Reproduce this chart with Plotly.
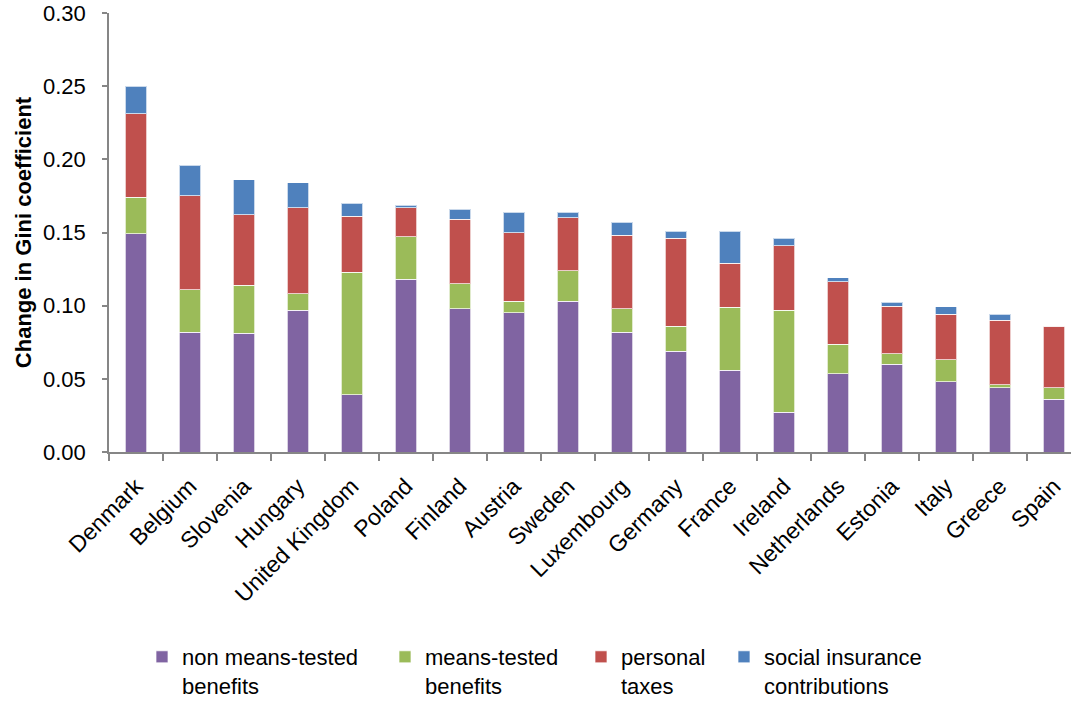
import plotly.graph_objects as go

countries = ["Denmark", "Belgium", "Slovenia", "Hungary", "United Kingdom", "Poland",
             "Finland", "Austria", "Sweden", "Luxembourg", "Germany", "France",
             "Ireland", "Netherlands", "Estonia", "Italy", "Greece", "Spain"]

non_means_tested = [0.149, 0.082, 0.081, 0.097, 0.039, 0.118, 0.098, 0.095, 0.103,
                    0.082, 0.069, 0.056, 0.027, 0.0535, 0.060, 0.048, 0.044, 0.036]
means_tested = [0.025, 0.029, 0.033, 0.011, 0.084, 0.029, 0.017, 0.008, 0.021,
                0.016, 0.017, 0.043, 0.070, 0.020, 0.007, 0.015, 0.002, 0.008]
personal_taxes = [0.057, 0.064, 0.048, 0.059, 0.038, 0.020, 0.044, 0.047, 0.036,
                  0.050, 0.060, 0.030, 0.044, 0.043, 0.0325, 0.031, 0.044, 0.042]
social_insurance = [0.019, 0.021, 0.024, 0.017, 0.009, 0.0015, 0.007, 0.014, 0.004,
                    0.009, 0.005, 0.022, 0.005, 0.0025, 0.003, 0.0054, 0.004, 0.0]

series_names = ["non means-tested<br>benefits", "means-tested<br>benefits",
                "personal<br>taxes", "social insurance<br>contributions"]
series_values = [non_means_tested, means_tested, personal_taxes, social_insurance]
colors = ["#8064A2", "#9BBB59", "#C0504D", "#4F81BD"]
legend_ids = ["legend", "legend2", "legend3", "legend4"]
y_ticks = [0.0, 0.05, 0.10, 0.15, 0.20, 0.25, 0.30]

FONT = "Liberation Sans, Arial, sans-serif"

fig = go.Figure()
for name, vals, col, lg in zip(series_names, series_values, colors, legend_ids):
    fig.add_trace(go.Bar(
        x=countries, y=vals, name=name,
        marker=dict(color=col, line=dict(color="rgba(255,255,255,0.7)", width=1)),
        legend=lg,
    ))

W, H = 1071, 701
ml, mr, mt, mb = 109, 0, 13, 249
plot_w = W - ml - mr
cat_px = 54.0

fig.update_layout(
    width=W, height=H,
    barmode="stack", bargap=0.605,
    margin=dict(l=ml, r=mr, t=mt, b=mb, autoexpand=False),
    paper_bgcolor="white", plot_bgcolor="white",
    font=dict(family=FONT, size=22, color="black"),
    xaxis=dict(
        type="category",
        range=[-0.5, -0.5 + plot_w / cat_px],
        tickangle=-45,
        tickson="boundaries",
        ticks="outside", ticklen=7, tickcolor="#868686", tickwidth=1.5,
        showline=True, linecolor="#868686", linewidth=1.5,
        showgrid=False, zeroline=False,
        tickfont=dict(family=FONT, size=23, color="black"),
        ticklabelstandoff=10,
        automargin=False,
    ),
    yaxis=dict(
        range=[0, 0.30],
        tickvals=y_ticks,
        ticktext=[f"{v:.2f}" for v in y_ticks],
        ticks="outside", ticklen=5, tickcolor="#868686", tickwidth=1.5,
        showline=True, linecolor="#868686", linewidth=1.5,
        showgrid=False, zeroline=False,
        tickfont=dict(family=FONT, size=22, color="black"),
        ticklabelstandoff=12,
        title=dict(text="<b>Change in Gini coefficient</b>",
                   font=dict(family=FONT, size=22, color="black"),
                   standoff=5),
        automargin=False,
    ),
    showlegend=True,
)

legend_lefts_px = [142, 385, 581, 724]
plot_h = H - mt - mb
legend_top_px = 636
for lg, left in zip(legend_ids, legend_lefts_px):
    fig.update_layout({lg: dict(
        x=(left - ml) / plot_w, xanchor="left",
        y=(H - mb - legend_top_px) / plot_h, yanchor="top",
        orientation="h", valign="top",
        font=dict(family=FONT, size=22, color="black"),
        bgcolor="rgba(0,0,0,0)", borderwidth=0,
        itemwidth=30, traceorder="normal",
    )})

fig.write_html(
    "out.html",
    config={"displayModeBar": False},
    post_script="document.body.style.margin='0';document.body.style.overflow='hidden';",
)
